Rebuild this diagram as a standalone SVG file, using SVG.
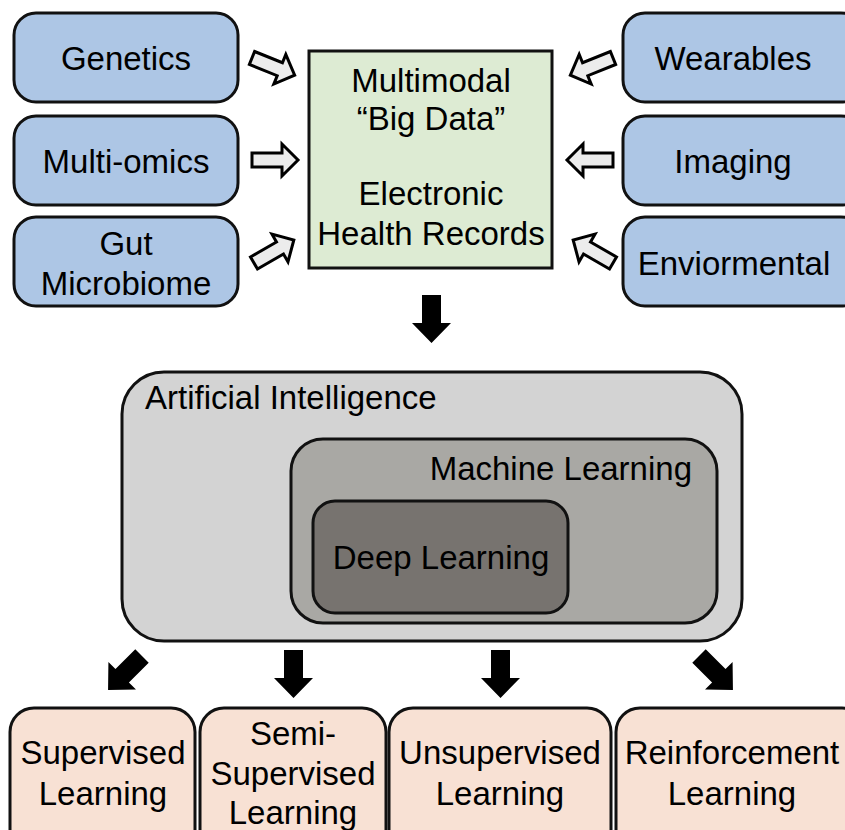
<svg xmlns="http://www.w3.org/2000/svg" width="845" height="830" viewBox="0 0 845 830">
<style>
text{font-family:"Liberation Sans",Arial,sans-serif;font-size:33px;fill:#000;text-anchor:middle}
.src{fill:#adc6e5;stroke:#111;stroke-width:3}
.hub{fill:#ddebd3;stroke:#111;stroke-width:3}
.ai{fill:#d3d3d3;stroke:#111;stroke-width:3}
.ml{fill:#a9a8a4;stroke:#111;stroke-width:3}
.dl{fill:#77736f;stroke:#111;stroke-width:3}
.lt{fill:#f8e1d4;stroke:#111;stroke-width:3}
.hol{fill:#ececec;stroke:#000;stroke-width:3;stroke-linejoin:miter}
.blk{fill:#000}
</style>
<defs>
<polygon id="ha" points="0,-7 30,-7 30,-16 46,0 30,16 30,7 0,7"/>
<polygon id="ba" points="0,-9.5 28,-9.5 28,-19.5 48,0 28,19.5 28,9.5 0,9.5"/>
</defs>
<rect width="845" height="830" fill="#fff"/>

<g id="genetics"><rect class="src" x="14" y="13" width="224" height="89" rx="22"/><text x="126" y="70">Genetics</text></g>
<g id="multiomics"><rect class="src" x="14" y="116" width="224" height="89" rx="22"/><text x="126" y="173">Multi-omics</text></g>
<g id="gut"><rect class="src" x="14" y="217" width="224" height="89" rx="22"/><text x="126" y="255">Gut</text><text x="126" y="295">Microbiome</text></g>

<g id="bigdata"><rect class="hub" x="309" y="51" width="243" height="217"/>
<text x="431" y="92">Multimodal</text><text x="431" y="130">“Big Data”</text>
<text x="431" y="205">Electronic</text><text x="431" y="245">Health Records</text></g>

<g id="wearables"><rect class="src" x="623" y="13" width="240" height="89" rx="22"/><text x="733" y="70">Wearables</text></g>
<g id="imaging"><rect class="src" x="623" y="116" width="240" height="89" rx="22"/><text x="733" y="173">Imaging</text></g>
<g id="enviormental"><rect class="src" x="623" y="217" width="240" height="89" rx="22"/><text x="734" y="275">Enviormental</text></g>

<g id="ai"><rect class="ai" x="122" y="372" width="620" height="269" rx="42"/><text x="145" y="409" style="text-anchor:start">Artificial Intelligence</text></g>
<g id="ml"><rect class="ml" x="291" y="439" width="426" height="184" rx="32"/><text x="692" y="480" style="text-anchor:end">Machine Learning</text></g>
<g id="dl"><rect class="dl" x="313" y="501" width="255" height="112" rx="22"/><text x="441" y="569">Deep Learning</text></g>

<g id="supervised"><rect class="lt" x="10" y="708" width="185" height="150" rx="24"/><text x="103" y="764">Supervised</text><text x="103" y="805">Learning</text></g>
<g id="semi"><rect class="lt" x="200" y="708" width="186" height="150" rx="24"/><text x="293" y="745">Semi-</text><text x="293" y="785">Supervised</text><text x="293" y="824">Learning</text></g>
<g id="unsupervised"><rect class="lt" x="389" y="708" width="222" height="150" rx="24"/><text x="500" y="764">Unsupervised</text><text x="500" y="805">Learning</text></g>
<g id="reinforcement"><rect class="lt" x="616" y="708" width="250" height="150" rx="24"/><text x="732" y="764">Reinforcement</text><text x="732" y="805">Learning</text></g>

<g id="connectors">
<use href="#ha" class="hol" transform="translate(252,58) rotate(22)"/>
<use href="#ha" class="hol" transform="translate(252,160)"/>
<use href="#ha" class="hol" transform="translate(254,263) rotate(-30)"/>
<use href="#ha" class="hol" transform="translate(613,58) rotate(158)"/>
<use href="#ha" class="hol" transform="translate(613,160) rotate(180)"/>
<use href="#ha" class="hol" transform="translate(613,263) rotate(210)"/>
<use href="#ba" class="blk" transform="translate(431.5,295) rotate(90)"/>
<use href="#ba" class="blk" transform="translate(142,656) rotate(135)"/>
<use href="#ba" class="blk" transform="translate(293.5,650) rotate(90)"/>
<use href="#ba" class="blk" transform="translate(500.5,650) rotate(90)"/>
<use href="#ba" class="blk" transform="translate(699,656) rotate(45)"/>
</g>
</svg>
